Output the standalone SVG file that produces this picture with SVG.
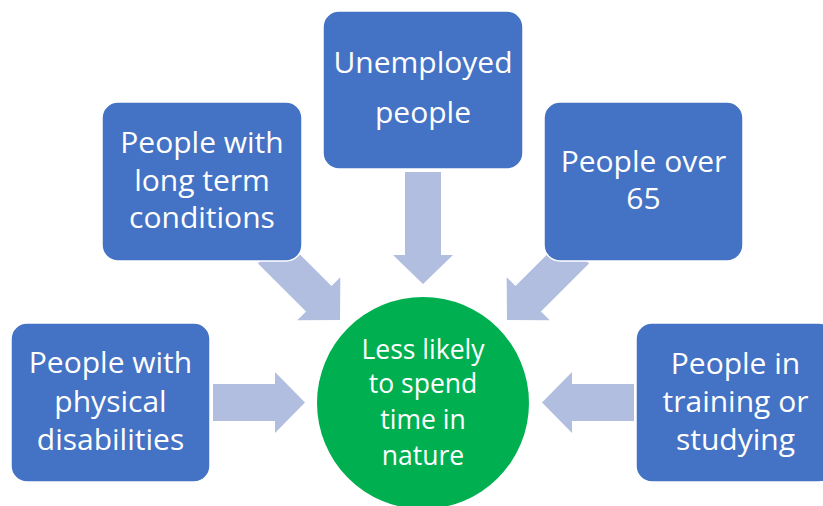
<svg xmlns="http://www.w3.org/2000/svg" width="823" height="506" viewBox="0 0 823 506">
<style>
.box{fill:#4472C4;stroke:#FFFFFF;stroke-width:1.5}
.arr{fill:#B1BEE0}
.t{font-family:"Open Sans","Noto Sans",sans-serif;font-size:30px;fill:#FFFFFF;text-anchor:middle}
.c{font-family:"Open Sans","Noto Sans",sans-serif;font-size:26.5px;fill:#FFFFFF;text-anchor:middle}
</style>
<defs>
<polygon id="a98" points="-98,-18 -30,-18 -30,-30.5 0,0 -30,30.5 -30,18 -98,18"/>
<polygon id="a92" points="-92,-18.5 -30,-18.5 -30,-30.5 0,0 -30,30.5 -30,18.5 -92,18.5"/>
<polygon id="a112" points="-112,-18 -29,-18 -29,-30 0,0 -29,30 -29,18 -112,18"/>
</defs>
<rect width="823" height="506" fill="#FFFFFF"/>
<g id="connectors">
<use href="#a92" class="arr" transform="translate(305,402.5)"/>
<use href="#a98" class="arr" transform="translate(340,320) rotate(45)"/>
<use href="#a112" class="arr" transform="translate(423,284) rotate(90)"/>
<use href="#a98" class="arr" transform="translate(507,320) rotate(135)"/>
<use href="#a92" class="arr" transform="translate(542,402.5) rotate(180)"/>
</g>
<g id="center">
<circle cx="423" cy="403" r="106" fill="#00B050"/>
<text class="c" x="423" y="359">Less likely</text>
<text class="c" x="423" y="393">to spend</text>
<text class="c" x="423" y="429">time in</text>
<text class="c" x="423" y="465">nature</text>
</g>
<g id="physical">
<rect class="box" x="11" y="323" width="199" height="159" rx="16"/>
<text class="t" x="110.5" y="373">People with</text>
<text class="t" x="110.5" y="412">physical</text>
<text class="t" x="110.5" y="450">disabilities</text>
</g>
<g id="longterm">
<rect class="box" x="102" y="102" width="200" height="159" rx="16"/>
<text class="t" x="202" y="153">People with</text>
<text class="t" x="202" y="191">long term</text>
<text class="t" x="202" y="228">conditions</text>
</g>
<g id="unemployed">
<rect class="box" x="323" y="11" width="200" height="158" rx="16"/>
<text class="t" x="423" y="73">Unemployed</text>
<text class="t" x="423" y="123">people</text>
</g>
<g id="over65">
<rect class="box" x="544" y="102" width="199" height="159" rx="16"/>
<text class="t" x="643.5" y="172">People over</text>
<text class="t" x="643.5" y="209">65</text>
</g>
<g id="training">
<rect class="box" x="636" y="323" width="199" height="159" rx="16"/>
<text class="t" x="735.5" y="374">People in</text>
<text class="t" x="735.5" y="412">training or</text>
<text class="t" x="735.5" y="450">studying</text>
</g>
</svg>
